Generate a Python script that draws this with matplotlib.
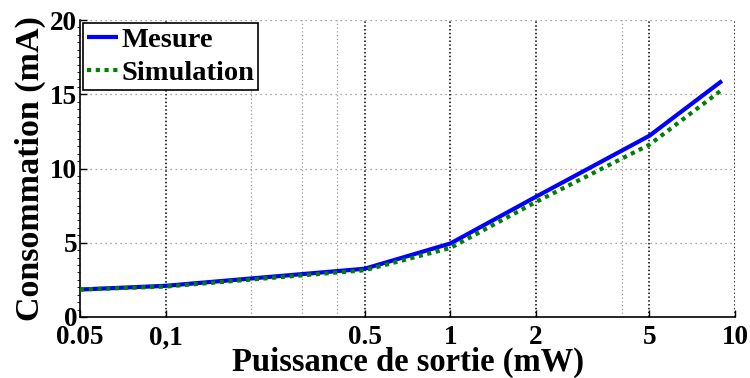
import matplotlib
matplotlib.use("Agg")
import matplotlib.pyplot as plt
from matplotlib.ticker import FixedLocator, NullFormatter

# data
power_mw = [0.05, 0.1, 0.5, 1, 2, 5, 9]
mesure_ma = [1.85, 2.1, 3.25, 4.95, 8.1, 12.2, 15.9]
simulation_ma = [1.85, 2.05, 3.15, 4.65, 7.75, 11.6, 15.3]
x_ticks = [0.05, 0.1, 0.5, 1, 2, 5, 10]
x_tick_labels = ["0.05", "0,1", "0.5", "1", "2", "5", "10"]
x_minor_grid = [0.2, 0.3, 0.4, 4]
y_ticks = [0, 5, 10, 15, 20]

plt.rcParams['font.family'] = ['Liberation Serif', 'DejaVu Serif']
plt.rcParams['font.weight'] = 'bold'

fig = plt.figure(figsize=(7.5, 3.78), dpi=100)
ax = fig.add_axes([80/750, (378-317)/378, 655/750, 297/378])

ax.set_xscale('log')
ax.set_xlim(0.05, 10)
ax.set_ylim(0, 20)

# grid
for yv in y_ticks[1:]:
    ax.axhline(yv, color='#888888', linestyle=(0, (1, 3)), lw=0.9, zorder=1)
for xv in x_ticks[1:]:
    ax.axvline(xv, color='black', linestyle=(0, (1, 1.5)), lw=1.1, zorder=1)
for xv in x_minor_grid:
    ax.axvline(xv, color='#999999', linestyle=(0, (1, 2)), lw=0.9, zorder=1)

ax.plot(power_mw, mesure_ma, color='#0000ff', lw=3, label='Mesure', zorder=3,
        solid_capstyle='butt')
ax.plot(power_mw, simulation_ma, color='#007f00', lw=3, linestyle=(0, (1.0, 1.1)),
        label='Simulation', zorder=4)

ax.xaxis.set_major_locator(FixedLocator(x_ticks))
ax.set_xticklabels(x_tick_labels)
ax.xaxis.set_minor_formatter(NullFormatter())
ax.xaxis.set_minor_locator(FixedLocator([]))
ax.set_yticks(y_ticks)
ax.yaxis.set_minor_locator(FixedLocator([i * 0.5 for i in range(41)]))

ax.tick_params(axis='both', which='major', direction='in', length=5, width=1,
               labelsize=19.5)
ax.tick_params(axis='x', which='major', pad=6)
ax.tick_params(axis='y', which='major', pad=2)
ax.tick_params(axis='y', which='minor', direction='out', length=2, width=0.6)
for lab in ax.get_xticklabels() + ax.get_yticklabels():
    lab.set_fontweight('bold')

ax.spines['top'].set_visible(False)
ax.spines['right'].set_visible(False)
ax.spines['left'].set_linewidth(1.2)
ax.spines['bottom'].set_linewidth(1.2)

ax.set_xlabel('Puissance de sortie (mW)', fontsize=23.5, fontweight='bold')
ax.xaxis.set_label_coords(0.5, -0.101)
ax.set_ylabel('Consommation (mA)', fontsize=24.5, fontweight='bold')
ax.yaxis.set_label_coords(-0.052, 0.5)

leg = ax.legend(loc='upper left', handlelength=1.1, handletextpad=0.1,
                borderpad=0.15, labelspacing=0.25, borderaxespad=0.1,
                fancybox=False, framealpha=1, edgecolor='black',
                prop={'family': ['Liberation Serif'], 'weight': 'bold', 'size': 20.5})
leg.get_frame().set_linewidth(1.2)

fig.savefig('out.png', dpi=100)
